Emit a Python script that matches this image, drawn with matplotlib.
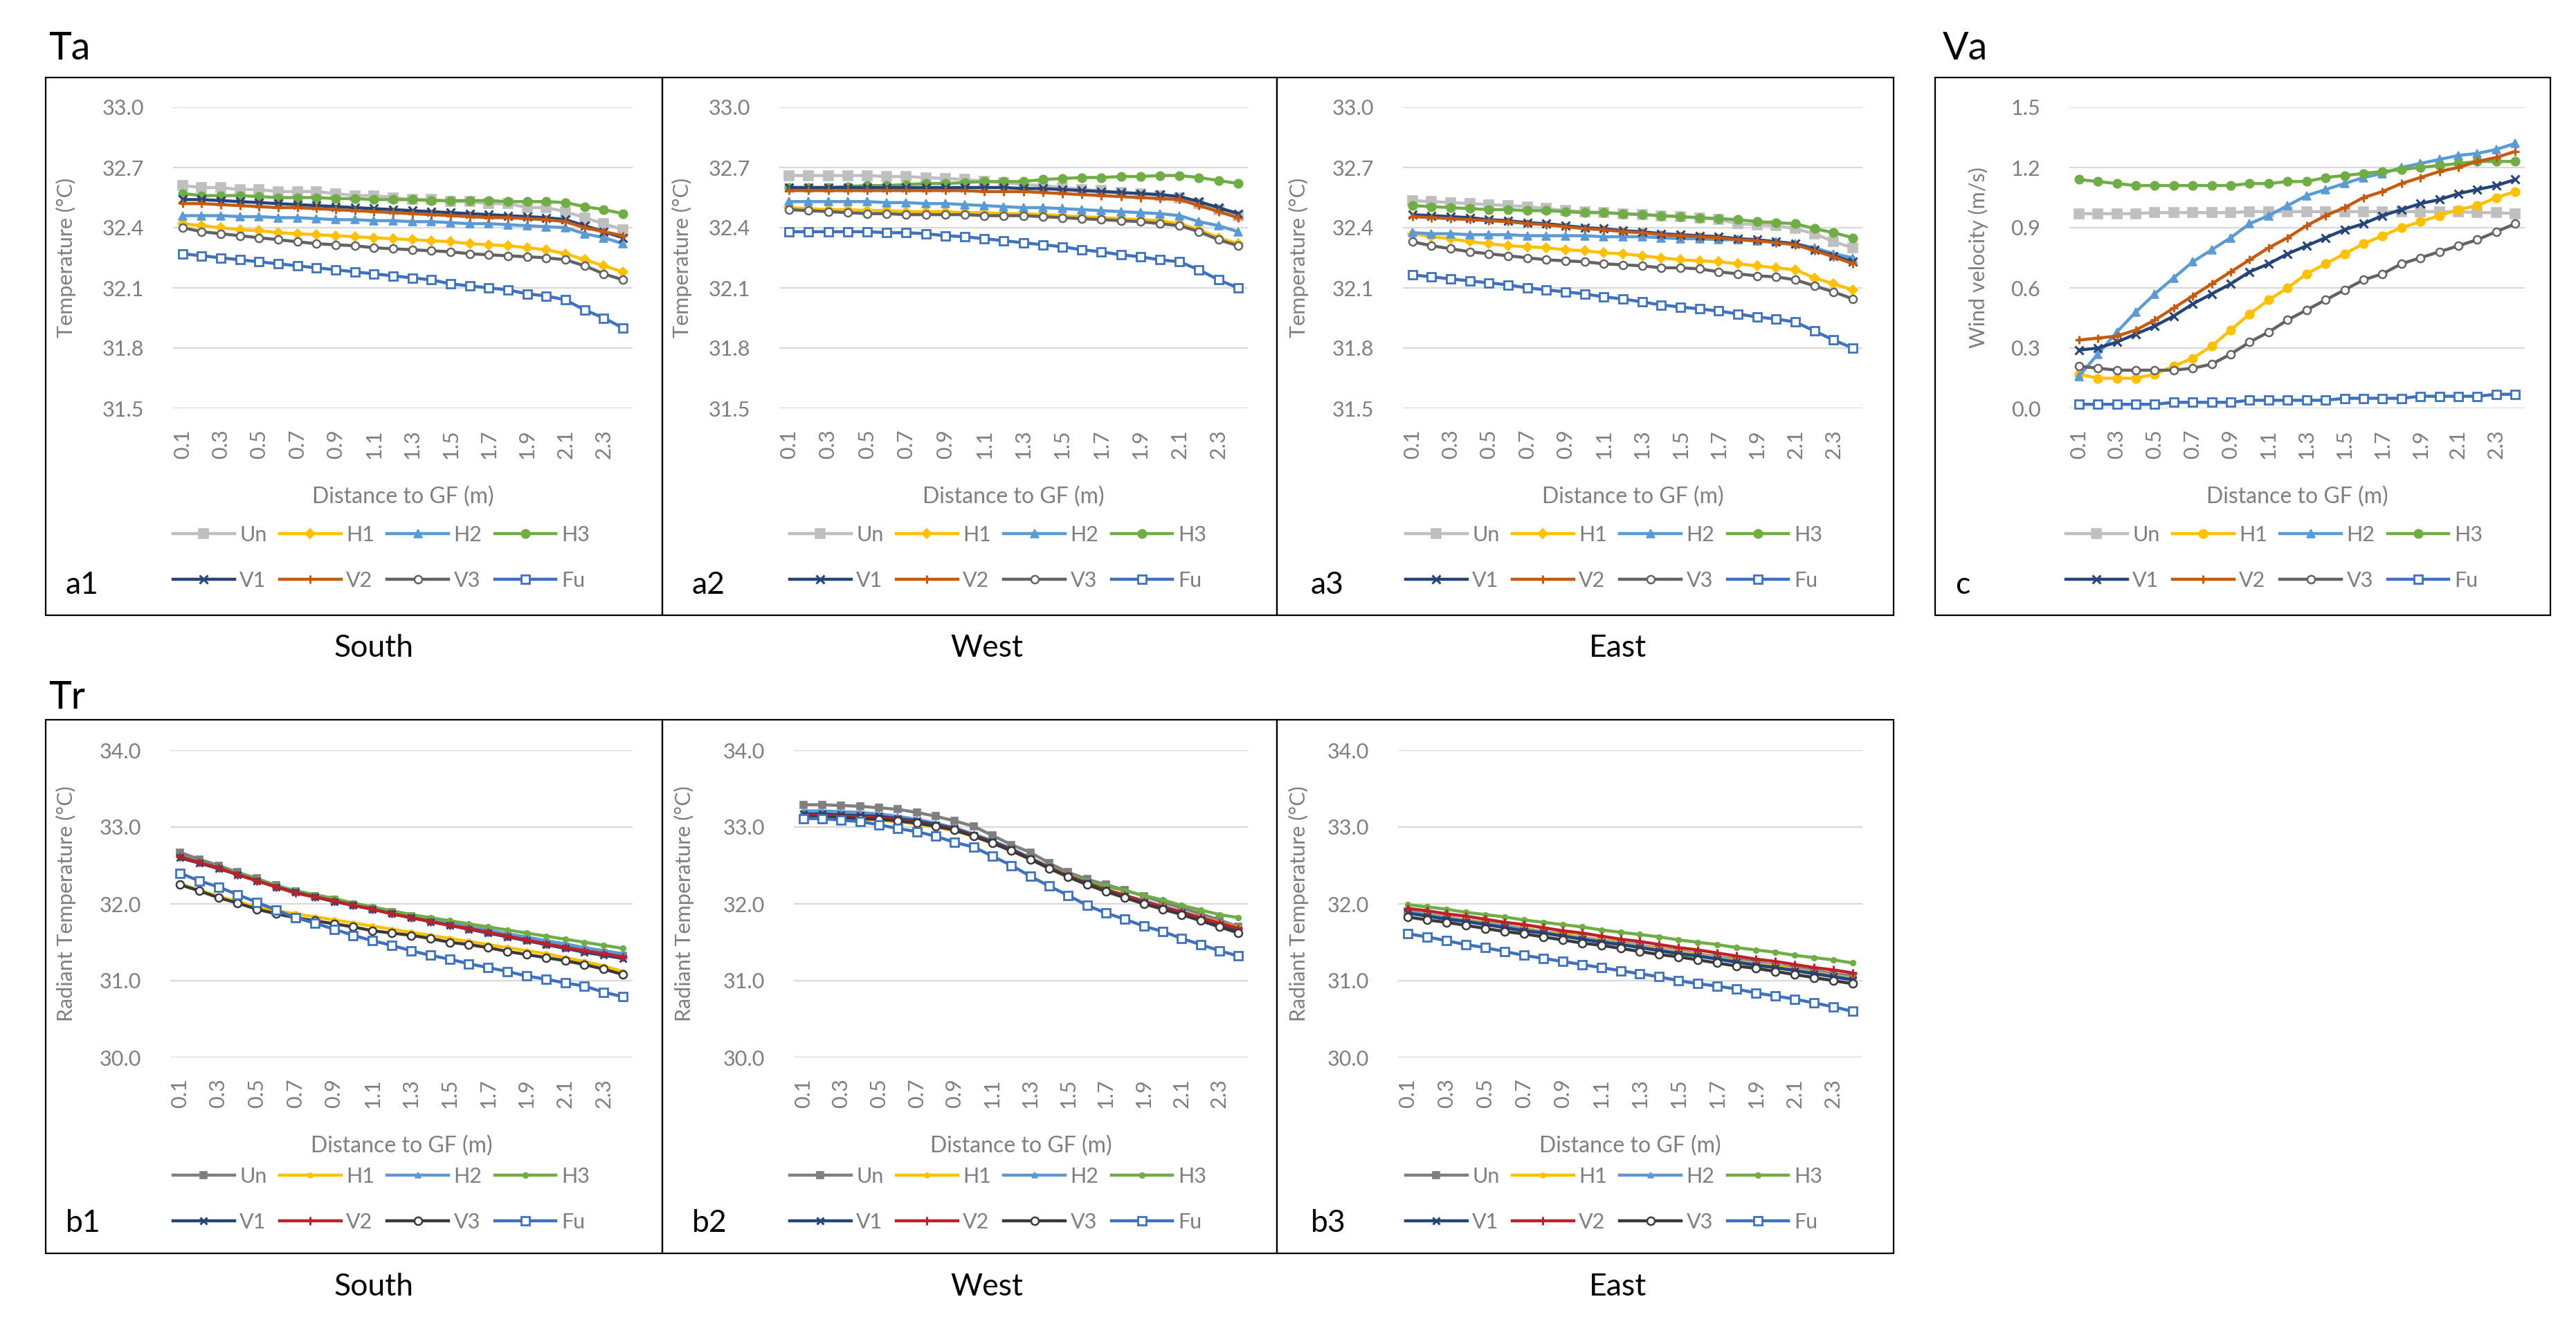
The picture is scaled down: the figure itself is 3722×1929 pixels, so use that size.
import matplotlib
matplotlib.use("Agg")
import matplotlib.pyplot as plt
from matplotlib.patches import Rectangle

W, H = 3723, 1929

# distance to GF (m), 24 categories
dist = [0.1, 0.2, 0.3, 0.4, 0.5, 0.6, 0.7, 0.8, 0.9, 1.0, 1.1, 1.2,
        1.3, 1.4, 1.5, 1.6, 1.7, 1.8, 1.9, 2.0, 2.1, 2.2, 2.3, 2.4]
series = ["Un", "H1", "H2", "H3", "V1", "V2", "V3", "Fu"]

# air temperature Ta (deg C)
ta_south = {
    "Un": [32.61, 32.60, 32.60, 32.59, 32.59, 32.58, 32.58, 32.58, 32.57, 32.56, 32.56, 32.55,
           32.54, 32.54, 32.53, 32.53, 32.52, 32.52, 32.50, 32.50, 32.48, 32.45, 32.42, 32.39],
    "H1": [32.42, 32.41, 32.40, 32.39, 32.385, 32.375, 32.37, 32.365, 32.36, 32.355, 32.35, 32.345,
           32.34, 32.335, 32.33, 32.32, 32.315, 32.31, 32.30, 32.29, 32.27, 32.24, 32.21, 32.18],
    "H2": [32.46, 32.46, 32.46, 32.455, 32.455, 32.45, 32.45, 32.445, 32.44, 32.44, 32.435, 32.435,
           32.43, 32.43, 32.425, 32.42, 32.42, 32.415, 32.41, 32.405, 32.40, 32.37, 32.35, 32.32],
    "H3": [32.57, 32.56, 32.56, 32.56, 32.555, 32.55, 32.55, 32.55, 32.545, 32.545, 32.54, 32.54,
           32.54, 32.535, 32.535, 32.535, 32.535, 32.53, 32.53, 32.53, 32.525, 32.505, 32.49, 32.47],
    "V1": [32.54, 32.54, 32.535, 32.53, 32.525, 32.52, 32.515, 32.51, 32.505, 32.50, 32.495, 32.49,
           32.485, 32.48, 32.475, 32.47, 32.465, 32.46, 32.455, 32.45, 32.44, 32.41, 32.38, 32.35],
    "V2": [32.52, 32.52, 32.515, 32.51, 32.505, 32.50, 32.50, 32.495, 32.49, 32.485, 32.48, 32.475,
           32.47, 32.465, 32.46, 32.455, 32.45, 32.45, 32.445, 32.44, 32.43, 32.40, 32.38, 32.36],
    "V3": [32.40, 32.38, 32.37, 32.36, 32.35, 32.34, 32.33, 32.32, 32.315, 32.31, 32.30, 32.295,
           32.29, 32.285, 32.28, 32.27, 32.265, 32.26, 32.255, 32.25, 32.24, 32.21, 32.17, 32.14],
    "Fu": [32.27, 32.26, 32.25, 32.24, 32.23, 32.22, 32.21, 32.20, 32.19, 32.18, 32.17, 32.16,
           32.15, 32.14, 32.12, 32.11, 32.10, 32.09, 32.07, 32.06, 32.04, 31.99, 31.95, 31.90],
}
ta_west = {
    "Un": [32.66, 32.66, 32.66, 32.66, 32.66, 32.655, 32.655, 32.65, 32.645, 32.64, 32.63, 32.625,
           32.615, 32.61, 32.60, 32.59, 32.585, 32.575, 32.57, 32.56, 32.55, 32.52, 32.49, 32.46],
    "H1": [32.50, 32.495, 32.49, 32.49, 32.485, 32.485, 32.48, 32.48, 32.48, 32.475, 32.475, 32.47,
           32.47, 32.465, 32.46, 32.455, 32.45, 32.445, 32.44, 32.435, 32.42, 32.39, 32.35, 32.32],
    "H2": [32.53, 32.53, 32.53, 32.53, 32.53, 32.525, 32.525, 32.52, 32.52, 32.515, 32.51, 32.505,
           32.50, 32.50, 32.495, 32.49, 32.485, 32.48, 32.475, 32.47, 32.46, 32.43, 32.41, 32.38],
    "H3": [32.60, 32.60, 32.60, 32.605, 32.61, 32.61, 32.615, 32.62, 32.62, 32.625, 32.63, 32.63,
           32.63, 32.64, 32.645, 32.65, 32.65, 32.655, 32.655, 32.66, 32.66, 32.65, 32.635, 32.62],
    "V1": [32.60, 32.60, 32.60, 32.60, 32.60, 32.60, 32.60, 32.60, 32.60, 32.60, 32.60, 32.60,
           32.595, 32.595, 32.59, 32.585, 32.58, 32.575, 32.57, 32.565, 32.555, 32.53, 32.50, 32.47],
    "V2": [32.585, 32.585, 32.585, 32.585, 32.585, 32.585, 32.585, 32.585, 32.585, 32.585, 32.58, 32.58,
           32.58, 32.575, 32.57, 32.565, 32.56, 32.555, 32.55, 32.545, 32.54, 32.51, 32.48, 32.45],
    "V3": [32.49, 32.485, 32.48, 32.475, 32.47, 32.47, 32.465, 32.465, 32.465, 32.465, 32.46, 32.46,
           32.46, 32.455, 32.45, 32.445, 32.44, 32.435, 32.43, 32.42, 32.41, 32.38, 32.34, 32.31],
    "Fu": [32.38, 32.38, 32.38, 32.38, 32.38, 32.375, 32.375, 32.37, 32.36, 32.355, 32.345, 32.335,
           32.325, 32.315, 32.305, 32.29, 32.28, 32.265, 32.255, 32.24, 32.23, 32.19, 32.14, 32.10],
}
ta_east = {
    "Un": [32.535, 32.53, 32.525, 32.52, 32.515, 32.51, 32.505, 32.495, 32.485, 32.48, 32.475, 32.47,
           32.465, 32.46, 32.455, 32.45, 32.44, 32.42, 32.415, 32.41, 32.395, 32.37, 32.33, 32.30],
    "H1": [32.37, 32.355, 32.345, 32.33, 32.32, 32.31, 32.305, 32.30, 32.29, 32.285, 32.275, 32.27,
           32.26, 32.25, 32.24, 32.235, 32.23, 32.22, 32.21, 32.20, 32.19, 32.15, 32.12, 32.09],
    "H2": [32.375, 32.37, 32.37, 32.365, 32.365, 32.365, 32.36, 32.36, 32.36, 32.36, 32.355, 32.355,
           32.355, 32.35, 32.345, 32.345, 32.34, 32.34, 32.335, 32.33, 32.32, 32.30, 32.27, 32.25],
    "H3": [32.51, 32.505, 32.50, 32.495, 32.49, 32.49, 32.485, 32.485, 32.48, 32.475, 32.475, 32.47,
           32.465, 32.46, 32.455, 32.45, 32.445, 32.44, 32.43, 32.425, 32.42, 32.395, 32.375, 32.35],
    "V1": [32.465, 32.46, 32.455, 32.45, 32.44, 32.435, 32.425, 32.42, 32.41, 32.40, 32.395, 32.385,
           32.38, 32.37, 32.365, 32.36, 32.355, 32.345, 32.34, 32.33, 32.32, 32.29, 32.26, 32.23],
    "V2": [32.455, 32.45, 32.445, 32.44, 32.435, 32.43, 32.42, 32.415, 32.405, 32.395, 32.39, 32.38,
           32.375, 32.365, 32.36, 32.355, 32.35, 32.34, 32.335, 32.325, 32.315, 32.285, 32.255, 32.22],
    "V3": [32.33, 32.31, 32.295, 32.28, 32.27, 32.26, 32.25, 32.24, 32.235, 32.23, 32.22, 32.215,
           32.21, 32.20, 32.20, 32.195, 32.18, 32.17, 32.16, 32.155, 32.14, 32.11, 32.08, 32.045],
    "Fu": [32.165, 32.155, 32.145, 32.135, 32.125, 32.115, 32.10, 32.09, 32.08, 32.07, 32.055, 32.045,
           32.03, 32.015, 32.005, 31.995, 31.985, 31.97, 31.955, 31.945, 31.93, 31.885, 31.84, 31.80],
}

# wind velocity Va (m/s)
va_all = {
    "Un": [0.97, 0.97, 0.97, 0.97, 0.975, 0.975, 0.975, 0.975, 0.975, 0.98, 0.98, 0.98,
           0.98, 0.98, 0.98, 0.98, 0.98, 0.98, 0.98, 0.98, 0.98, 0.975, 0.975, 0.97],
    "H1": [0.17, 0.15, 0.15, 0.15, 0.17, 0.21, 0.25, 0.31, 0.39, 0.47, 0.54, 0.60,
           0.67, 0.72, 0.77, 0.82, 0.86, 0.90, 0.93, 0.96, 0.99, 1.01, 1.05, 1.08],
    "H2": [0.16, 0.27, 0.38, 0.48, 0.57, 0.65, 0.73, 0.79, 0.85, 0.92, 0.96, 1.01,
           1.06, 1.09, 1.12, 1.15, 1.17, 1.20, 1.22, 1.24, 1.26, 1.27, 1.29, 1.32],
    "H3": [1.14, 1.13, 1.12, 1.11, 1.11, 1.11, 1.11, 1.11, 1.11, 1.12, 1.12, 1.13,
           1.13, 1.15, 1.16, 1.17, 1.18, 1.19, 1.20, 1.21, 1.22, 1.23, 1.23, 1.23],
    "V1": [0.29, 0.30, 0.33, 0.37, 0.41, 0.46, 0.52, 0.57, 0.62, 0.68, 0.72, 0.77,
           0.81, 0.85, 0.89, 0.92, 0.96, 0.99, 1.02, 1.04, 1.07, 1.09, 1.11, 1.14],
    "V2": [0.34, 0.35, 0.36, 0.39, 0.44, 0.50, 0.56, 0.62, 0.68, 0.74, 0.80, 0.85,
           0.91, 0.96, 1.00, 1.05, 1.08, 1.12, 1.15, 1.18, 1.20, 1.23, 1.25, 1.28],
    "V3": [0.21, 0.20, 0.19, 0.19, 0.19, 0.19, 0.20, 0.22, 0.27, 0.33, 0.38, 0.44,
           0.49, 0.54, 0.59, 0.64, 0.67, 0.72, 0.75, 0.78, 0.81, 0.84, 0.88, 0.92],
    "Fu": [0.02, 0.02, 0.02, 0.02, 0.02, 0.03, 0.03, 0.03, 0.03, 0.04, 0.04, 0.04,
           0.04, 0.04, 0.05, 0.05, 0.05, 0.05, 0.06, 0.06, 0.06, 0.06, 0.07, 0.07],
}

# radiant temperature Tr (deg C)
tr_south = {
    "Un": [32.67, 32.58, 32.50, 32.41, 32.33, 32.24, 32.16, 32.10, 32.05, 31.99, 31.94, 31.89,
           31.84, 31.79, 31.74, 31.69, 31.64, 31.59, 31.54, 31.49, 31.44, 31.40, 31.36, 31.32],
    "H1": [32.26, 32.18, 32.10, 32.03, 31.96, 31.91, 31.87, 31.83, 31.79, 31.75, 31.71, 31.67,
           31.63, 31.59, 31.55, 31.51, 31.47, 31.43, 31.39, 31.35, 31.30, 31.25, 31.19, 31.12],
    "H2": [32.63, 32.55, 32.48, 32.39, 32.31, 32.23, 32.15, 32.10, 32.05, 31.99, 31.94, 31.89,
           31.84, 31.79, 31.75, 31.70, 31.66, 31.61, 31.57, 31.52, 31.48, 31.43, 31.39, 31.35],
    "H3": [32.62, 32.55, 32.48, 32.40, 32.32, 32.24, 32.17, 32.12, 32.07, 32.01, 31.96, 31.91,
           31.86, 31.82, 31.78, 31.74, 31.70, 31.66, 31.62, 31.58, 31.54, 31.50, 31.46, 31.42],
    "V1": [32.60, 32.53, 32.46, 32.38, 32.30, 32.22, 32.15, 32.09, 32.03, 31.98, 31.93, 31.87,
           31.82, 31.77, 31.72, 31.67, 31.62, 31.57, 31.52, 31.47, 31.42, 31.37, 31.33, 31.29],
    "V2": [32.61, 32.54, 32.47, 32.38, 32.30, 32.22, 32.14, 32.09, 32.04, 31.98, 31.93, 31.87,
           31.82, 31.77, 31.72, 31.68, 31.63, 31.58, 31.53, 31.48, 31.43, 31.39, 31.35, 31.31],
    "V3": [32.25, 32.17, 32.08, 32.01, 31.93, 31.87, 31.82, 31.78, 31.74, 31.70, 31.65, 31.62,
           31.59, 31.55, 31.50, 31.47, 31.43, 31.38, 31.34, 31.30, 31.26, 31.21, 31.15, 31.08],
    "Fu": [32.40, 32.30, 32.22, 32.12, 32.02, 31.92, 31.82, 31.75, 31.67, 31.59, 31.52, 31.46,
           31.39, 31.33, 31.28, 31.22, 31.17, 31.12, 31.06, 31.02, 30.97, 30.93, 30.85, 30.79],
}
tr_west = {
    "Un": [33.29, 33.29, 33.28, 33.27, 33.25, 33.23, 33.19, 33.14, 33.08, 33.01, 32.89, 32.77,
           32.67, 32.53, 32.41, 32.32, 32.25, 32.18, 32.10, 32.02, 31.95, 31.87, 31.79, 31.70],
    "H1": [33.12, 33.12, 33.11, 33.10, 33.09, 33.07, 33.04, 33.00, 32.95, 32.88, 32.79, 32.70,
           32.59, 32.48, 32.37, 32.27, 32.19, 32.11, 32.04, 31.97, 31.90, 31.83, 31.76, 31.69],
    "H2": [33.21, 33.21, 33.20, 33.19, 33.17, 33.14, 33.10, 33.05, 32.99, 32.91, 32.82, 32.72,
           32.60, 32.48, 32.37, 32.27, 32.19, 32.11, 32.04, 31.97, 31.90, 31.82, 31.75, 31.68],
    "H3": [33.14, 33.14, 33.13, 33.12, 33.11, 33.09, 33.06, 33.02, 32.97, 32.89, 32.80, 32.70,
           32.59, 32.48, 32.38, 32.30, 32.23, 32.17, 32.11, 32.05, 31.98, 31.92, 31.86, 31.82],
    "V1": [33.17, 33.17, 33.16, 33.15, 33.14, 33.11, 33.08, 33.03, 32.98, 32.89, 32.81, 32.71,
           32.59, 32.47, 32.36, 32.27, 32.18, 32.10, 32.02, 31.95, 31.88, 31.80, 31.73, 31.66],
    "V2": [33.15, 33.15, 33.14, 33.13, 33.12, 33.10, 33.06, 33.02, 32.97, 32.89, 32.80, 32.70,
           32.59, 32.47, 32.36, 32.26, 32.18, 32.11, 32.03, 31.96, 31.89, 31.82, 31.75, 31.68],
    "V3": [33.13, 33.13, 33.12, 33.11, 33.10, 33.08, 33.05, 33.01, 32.96, 32.88, 32.79, 32.69,
           32.58, 32.46, 32.35, 32.25, 32.16, 32.08, 32.00, 31.93, 31.86, 31.78, 31.70, 31.62],
    "Fu": [33.11, 33.11, 33.09, 33.07, 33.03, 32.98, 32.94, 32.88, 32.80, 32.74, 32.62, 32.50,
           32.36, 32.23, 32.11, 31.98, 31.88, 31.80, 31.71, 31.64, 31.55, 31.47, 31.39, 31.32],
}
tr_east = {
    "Un": [31.90, 31.86, 31.83, 31.79, 31.75, 31.72, 31.68, 31.64, 31.61, 31.57, 31.53, 31.50,
           31.46, 31.42, 31.39, 31.35, 31.31, 31.28, 31.24, 31.20, 31.17, 31.13, 31.09, 31.06],
    "H1": [31.91, 31.87, 31.83, 31.79, 31.76, 31.72, 31.68, 31.64, 31.60, 31.57, 31.53, 31.49,
           31.45, 31.41, 31.38, 31.34, 31.30, 31.26, 31.22, 31.19, 31.15, 31.11, 31.07, 31.03],
    "H2": [31.90, 31.86, 31.82, 31.78, 31.75, 31.71, 31.67, 31.63, 31.59, 31.55, 31.52, 31.48,
           31.44, 31.40, 31.36, 31.33, 31.29, 31.25, 31.21, 31.17, 31.14, 31.10, 31.06, 31.02],
    "H3": [31.99, 31.96, 31.93, 31.89, 31.86, 31.83, 31.79, 31.76, 31.73, 31.70, 31.66, 31.63,
           31.60, 31.57, 31.53, 31.50, 31.47, 31.43, 31.40, 31.37, 31.33, 31.30, 31.27, 31.23],
    "V1": [31.88, 31.84, 31.80, 31.77, 31.73, 31.69, 31.65, 31.62, 31.58, 31.54, 31.50, 31.47,
           31.43, 31.39, 31.35, 31.32, 31.28, 31.24, 31.20, 31.17, 31.13, 31.09, 31.05, 31.01],
    "V2": [31.94, 31.91, 31.87, 31.84, 31.80, 31.76, 31.73, 31.69, 31.65, 31.62, 31.58, 31.54,
           31.51, 31.47, 31.43, 31.40, 31.36, 31.32, 31.28, 31.25, 31.21, 31.17, 31.14, 31.10],
    "V3": [31.83, 31.79, 31.76, 31.72, 31.68, 31.64, 31.61, 31.57, 31.53, 31.49, 31.46, 31.42,
           31.38, 31.34, 31.31, 31.27, 31.23, 31.19, 31.16, 31.12, 31.08, 31.04, 31.00, 30.96],
    "Fu": [31.61, 31.57, 31.52, 31.47, 31.43, 31.38, 31.33, 31.29, 31.25, 31.21, 31.17, 31.13,
           31.09, 31.05, 31.00, 30.96, 30.93, 30.89, 30.84, 30.80, 30.76, 30.71, 30.66, 30.60],
}

# line styles: a / c panels (air temp, wind) and b panels (radiant temp)
style_a = {
    "Un": dict(color="#BFBFBF", marker="s", ms=9.5),
    "H1": dict(color="#FFC000", marker="D", ms=7),
    "H2": dict(color="#5B9BD5", marker="^", ms=9),
    "H3": dict(color="#70AD47", marker="o", ms=9),
    "V1": dict(color="#264478", marker="x", ms=8, mew=2.2),
    "V2": dict(color="#C55A11", marker="+", ms=9, mew=2.2),
    "V3": dict(color="#636363", marker="o", ms=8, mfc="white", mew=1.8),
    "Fu": dict(color="#3F72BA", marker="s", ms=9, mfc="white", mew=2.0),
}
style_c = dict(style_a)
style_c["H1"] = dict(color="#FFC000", marker="o", ms=9)
style_b = {
    "Un": dict(color="#7F7F7F", marker="s", ms=7.5),
    "H1": dict(color="#FFC000", marker="o", ms=5),
    "H2": dict(color="#5B9BD5", marker="^", ms=5.5),
    "H3": dict(color="#70AD47", marker="o", ms=5.5),
    "V1": dict(color="#264478", marker="x", ms=7, mew=2.2),
    "V2": dict(color="#C0202A", marker="+", ms=9, mew=2.2),
    "V3": dict(color="#3A3A3A", marker="o", ms=8, mfc="white", mew=1.8),
    "Fu": dict(color="#3F72BA", marker="s", ms=9, mfc="white", mew=2.0),
}

plt.rcParams["font.family"] = ["Lato", "DejaVu Sans"]
TXT = "#7F7F7F"

fig = plt.figure(figsize=(W / 100, H / 100), dpi=100)


def fx(x):
    return x / W


def fy(y):
    return 1 - y / H


def panel(box, grid, data, styles, ylim, yticks, ylabel, ylab_x, leg_x, leg_y, tag):
    # outer frame
    x0, y0, x1, y1 = box
    fig.patches.append(Rectangle((fx(x0), fy(y1)), fx(x1 - x0), (y1 - y0) / H,
                                 transform=fig.transFigure, fill=False,
                                 edgecolor="black", lw=1.6, zorder=0))
    gx0, gy0, gx1, gy1 = grid
    ax = fig.add_axes([fx(gx0), fy(gy1), fx(gx1 - gx0), (gy1 - gy0) / H])
    idx = list(range(len(dist)))
    handles = {}
    for s in series:
        st = dict(styles[s])
        col = st.pop("color")
        st.setdefault("mfc", col)
        st.setdefault("mew", 1.2)
        ln, = ax.plot(idx, data[s], color=col, lw=3.2, mec=col, label=s,
                      clip_on=False, **st)
        handles[s] = ln
    ax.set_xlim(-0.5, len(dist) - 0.5)
    ax.set_ylim(*ylim)
    ax.set_yticks(yticks)
    ax.set_yticklabels([f"{v:.1f}" for v in yticks])
    ax.set_xticks(idx[::2])
    ax.set_xticklabels([f"{d:.1f}" for d in dist[::2]], rotation=90)
    ax.tick_params(length=0, labelsize=22, labelcolor=TXT)
    ax.tick_params(axis="y", pad=30)
    ax.tick_params(axis="x", pad=22)
    for sp in ax.spines.values():
        sp.set_visible(False)
    ax.grid(axis="y", color="#D9D9D9", lw=1.6)
    ax.set_axisbelow(True)
    ax.set_ylabel(ylabel, fontsize=22, color=TXT)
    ax.yaxis.set_label_coords((ylab_x - gx0) / (gx1 - gx0), 0.5)
    ax.set_xlabel("Distance to GF (m)", fontsize=23, color=TXT)
    ax.xaxis.set_label_coords(0.5, -(113 / (gy1 - gy0)))
    order = ["Un", "V1", "H1", "V2", "H2", "V3", "H3", "Fu"]
    leg = ax.legend([handles[s] for s in order], order, ncol=4, frameon=False,
                    loc="center left", bbox_to_anchor=(fx(leg_x), fy(leg_y)),
                    bbox_transform=fig.transFigure, borderpad=0, borderaxespad=0,
                    fontsize=22, handlelength=2.9, handletextpad=0.25,
                    columnspacing=0.6, labelspacing=1.25, numpoints=1)
    for t in leg.get_texts():
        t.set_color(TXT)
    fig.text(fx(tag[1]), fy(tag[2]), tag[0], fontsize=32, va="center", ha="left")
    return ax


a_ticks = [31.5, 31.8, 32.1, 32.4, 32.7, 33.0]
b_ticks = [30.0, 31.0, 32.0, 33.0, 34.0]
c_ticks = [0.0, 0.3, 0.6, 0.9, 1.2, 1.5]

panel((66, 112, 957, 889), (250, 155, 914, 590), ta_south, style_a, (31.5, 33.0), a_ticks,
      "Temperature (\u00b0C)", 110, 250, 806, ("a1", 95, 845))
panel((957, 112, 1845, 889), (1126, 155, 1803, 590), ta_west, style_a, (31.5, 33.0), a_ticks,
      "Temperature (\u00b0C)", 1000, 1141, 806, ("a2", 1000, 845))
panel((1845, 112, 2736, 889), (2027, 155, 2691, 590), ta_east, style_a, (31.5, 33.0), a_ticks,
      "Temperature (\u00b0C)", 1891, 2031, 806, ("a3", 1894, 845))
panel((2796, 112, 3685, 889), (2990, 155, 3648, 590), va_all, style_c, (0.0, 1.5), c_ticks,
      "Wind velocity (m/s)", 2873, 2985, 806, ("c", 2825, 845))

panel((66, 1040, 957, 1811), (246, 1084, 914, 1528), tr_south, style_b, (30.0, 34.0), b_ticks,
      "Radiant Temperature (\u00b0C)", 110, 250, 1733, ("b1", 95, 1767))
panel((957, 1040, 1845, 1811), (1147, 1084, 1803, 1528), tr_west, style_b, (30.0, 34.0), b_ticks,
      "Radiant Temperature (\u00b0C)", 1003, 1141, 1733, ("b2", 1000, 1767))
panel((1845, 1040, 2736, 1811), (2020, 1084, 2691, 1528), tr_east, style_b, (30.0, 34.0), b_ticks,
      "Radiant Temperature (\u00b0C)", 1891, 2031, 1733, ("b3", 1894, 1767))

# headers and orientation labels
fig.text(fx(70), fy(86), "Ta", fontsize=40, va="baseline", ha="left")
fig.text(fx(2807), fy(86), "Va", fontsize=40, va="baseline", ha="left")
fig.text(fx(70), fy(1024), "Tr", fontsize=40, va="baseline", ha="left")
for name, x in [("South", 540), ("West", 1426), ("East", 2338)]:
    fig.text(fx(x), fy(937), name, fontsize=32, va="center", ha="center")
    fig.text(fx(x), fy(1860), name, fontsize=32, va="center", ha="center")

fig.savefig("out.png", dpi=100, facecolor="white")
